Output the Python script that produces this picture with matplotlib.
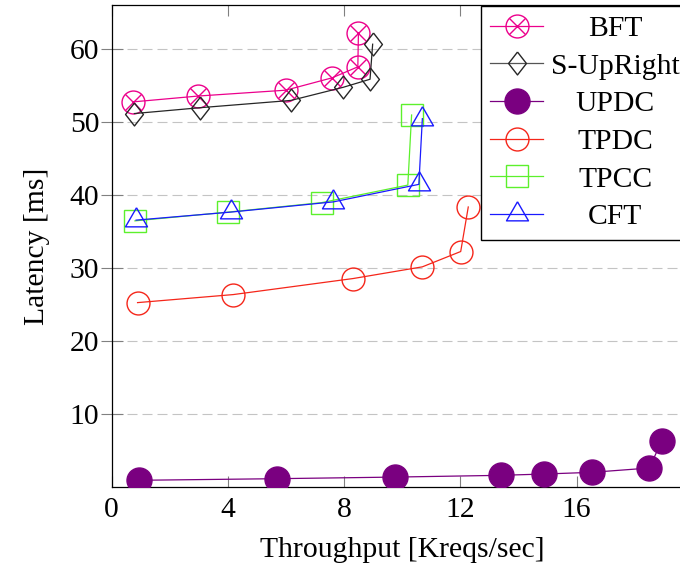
import matplotlib
matplotlib.use('Agg')
import matplotlib.pyplot as plt
from matplotlib.lines import Line2D
from matplotlib.legend_handler import HandlerTuple

# ---- data ----
bft_x = [0.74, 2.98, 5.99, 7.59, 8.47, 8.49]
bft_y = [52.8, 53.6, 54.4, 56.1, 57.6, 62.2]
sup_x = [0.78, 3.04, 6.17, 7.97, 8.89, 8.98]
sup_y = [51.2, 52.0, 53.0, 54.8, 55.9, 60.7]
updc_x = [0.94, 5.68, 9.75, 13.39, 14.89, 16.52, 18.50, 18.93]
updc_y = [0.96, 1.18, 1.40, 1.64, 1.82, 2.05, 2.64, 6.38]
tpdc_x = [0.89, 4.18, 8.31, 10.69, 12.01, 12.27]
tpdc_y = [25.3, 26.4, 28.6, 30.2, 32.3, 38.4]
tpcc_x = [0.80, 4.01, 7.23, 10.19, 10.32]
tpcc_y = [36.5, 37.7, 39.0, 41.4, 51.0]
cft_x = [0.84, 4.10, 7.63, 10.57, 10.69]
cft_y = [36.6, 37.7, 39.1, 41.5, 50.5]

xticks = [0, 4, 8, 12, 16]
yticks = [10, 20, 30, 40, 50, 60]
series_names = ["BFT", "S-UpRight", "UPDC", "TPDC", "TPCC", "CFT"]

plt.rcParams['font.family'] = ['Liberation Serif', 'DejaVu Serif']
FS = 21.3

fig = plt.figure(figsize=(6.8, 5.67), dpi=100)
ax = fig.add_axes([111.7 / 680, 1 - 487.3 / 567, 581.2 / 680, (487.3 - 5) / 567])

c_bft = '#ec008c'
c_sup = '#262626'
c_updc = '#7a0080'
c_tpdc = '#f5261a'
c_tpcc = '#5cf02c'
c_cft = '#1a1aff'

lw = 0.9
mew = 1.0
diamond = [(0, 1), (0.78, 0), (0, -1), (-0.78, 0), (0, 1)]
triangle = [(0, 1), (-0.866, -0.5), (0.866, -0.5), (0, 1)]

# BFT: circle with an x inside
ax.plot(bft_x, bft_y, color=c_bft, lw=lw, marker='o', ms=16.5, mfc='none',
        mec=c_bft, mew=mew, zorder=3)
ax.plot(bft_x, bft_y, color=c_bft, lw=0, marker='x', ms=11.7, mec=c_bft,
        mew=mew, zorder=3)
ax.plot(sup_x, sup_y, color=c_sup, lw=lw, marker=diamond, ms=16.5,
        mfc='none', mec=c_sup, mew=mew, zorder=3)
ax.plot(updc_x, updc_y, color=c_updc, lw=lw, marker='o', ms=18,
        mfc=c_updc, mec=c_updc, mew=mew, zorder=3)
ax.plot(tpdc_x, tpdc_y, color=c_tpdc, lw=lw, marker='o', ms=16.5,
        mfc='none', mec=c_tpdc, mew=mew, zorder=3)
ax.plot(tpcc_x, tpcc_y, color=c_tpcc, lw=lw, marker='s', ms=16.5,
        mfc='none', mec=c_tpcc, mew=mew, zorder=3)
ax.plot(cft_x, cft_y, color=c_cft, lw=lw, marker=triangle, ms=18.3,
        mfc='none', mec=c_cft, mew=mew, zorder=3)

ax.set_xlim(0, 20)
ax.set_ylim(0, 66.07)
ax.set_xticks(xticks)
ax.set_yticks(yticks)
ax.tick_params(axis='x', direction='in', top=True, length=8, width=0.8,
               color='#808080', labelsize=FS, pad=7)
ax.tick_params(axis='y', direction='inout', length=16, width=0.8,
               color='#808080', labelsize=FS, pad=1)
ax.yaxis.grid(True, color='#c4c4c4', linestyle=(0, (9, 4.5)), linewidth=0.8)
ax.set_axisbelow(True)
for s in ax.spines.values():
    s.set_linewidth(0.9)
    s.set_color('black')

ax.set_xlabel('Throughput [Kreqs/sec]', fontsize=FS, labelpad=10)
ax.set_ylabel('Latency [ms]', fontsize=FS, labelpad=14)

h_bft = (Line2D([], [], color=c_bft, lw=lw, marker='o', ms=16.5, mfc='none', mec=c_bft, mew=mew),
         Line2D([], [], lw=0, marker='x', ms=11.7, mec=c_bft, mew=mew))
h_sup = Line2D([], [], color='#555555', lw=lw, marker=diamond, ms=16.5, mfc='none', mec=c_sup, mew=mew)
h_updc = Line2D([], [], color=c_updc, lw=lw, marker='o', ms=18, mfc=c_updc, mec=c_updc)
h_tpdc = Line2D([], [], color=c_tpdc, lw=lw, marker='o', ms=16.5, mfc='none', mec=c_tpdc, mew=mew)
h_tpcc = Line2D([], [], color=c_tpcc, lw=lw, marker='s', ms=16.5, mfc='none', mec=c_tpcc, mew=mew)
h_cft = Line2D([], [], color=c_cft, lw=lw, marker=triangle, ms=18.3, mfc='none', mec=c_cft, mew=mew)

leg = ax.legend([h_bft, h_sup, h_updc, h_tpdc, h_tpcc, h_cft], series_names,
                handler_map={tuple: HandlerTuple(ndivide=1, pad=0)},
                loc='upper left', bbox_to_anchor=(480.7 / 680, 1 - 6 / 567),
                bbox_transform=fig.transFigure, frameon=True, fancybox=False,
                edgecolor='black', framealpha=1, fontsize=FS, handlelength=1.8,
                handletextpad=0.25, labelspacing=0.37, borderpad=0.32,
                borderaxespad=0)
leg.get_frame().set_linewidth(1.0)
leg.set_zorder(10)

fig.canvas.draw()
r = fig.canvas.get_renderer()
texts = leg.get_texts()
wmax = max(t.get_window_extent(r).width for t in texts)
for t in texts:
    wi = t.get_window_extent(r).width
    t.set_position(((wmax - wi) / 2, 0))

fig.savefig('out.png', dpi=100)
